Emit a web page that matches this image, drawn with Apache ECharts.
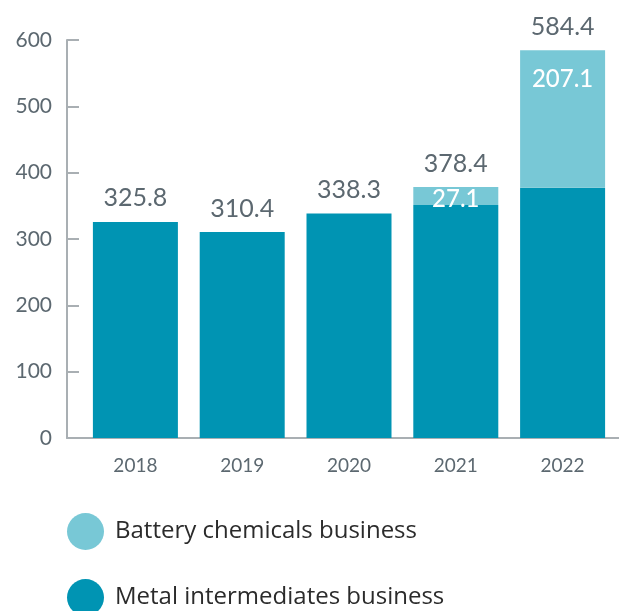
<!DOCTYPE html>
<html>
<head>
<meta charset="utf-8">
<script src="https://cdn.jsdelivr.net/npm/echarts@6/dist/echarts.min.js"></script>
<style>
  html, body { margin: 0; padding: 0; background: #ffffff; }
  #chart { width: 619px; height: 611px; }
</style>
</head>
<body>
<div id="chart"></div>
<script>
// Revenue by business line, 2018–2022
const years = ['2018', '2019', '2020', '2021', '2022'];
const metalIntermediates = [325.8, 310.4, 338.3, 351.3, 377.3];
const batteryChemicals = [null, null, null, 27.1, 207.1];
const totals = [325.8, 310.4, 338.3, 378.4, 584.4];
const yTicks = { min: 0, max: 600, interval: 100 };

const DARK = '#0094b3';
const LIGHT = '#78c8d6';
const AXIS = '#a9afb3';
const GREY_TEXT = '#5c6870';
const FONT = 'Lato';

// inner labels sit differently in the thin 2021 segment and the tall 2022 one
const batteryData = batteryChemicals.map((v, i) => {
  if (v == null) return v;
  if (i === 3) return { value: v, label: { position: 'inside', offset: [0, 3] } };
  return { value: v, label: { position: 'insideTop', distance: 17 } };
});

const legendText = { fontFamily: 'Open Sans', fontSize: 24, color: '#2b2b2b', padding: [0, 0, 0, 6] };

const chart = echarts.init(document.getElementById('chart'), null, { renderer: 'canvas' });

chart.setOption({
  animation: false,
  textStyle: { fontFamily: FONT },
  grid: [
    { left: 82, right: 3, top: 40, bottom: 173 },
    { left: 67, right: 0, top: 40, bottom: 173 }
  ],
  legend: [
    {
      data: ['Battery chemicals business'],
      left: 67, top: 513, padding: 0,
      icon: 'circle', itemWidth: 37, itemHeight: 37,
      textStyle: legendText
    },
    {
      data: ['Metal intermediates business'],
      left: 67, top: 579, padding: 0,
      icon: 'circle', itemWidth: 37, itemHeight: 37,
      textStyle: legendText
    }
  ],
  xAxis: [
    {
      type: 'category',
      gridIndex: 0,
      data: years,
      axisLine: { show: false },
      axisTick: { show: false },
      axisLabel: { color: GREY_TEXT, fontSize: 19, margin: 18, fontFamily: FONT }
    },
    {
      type: 'category',
      gridIndex: 1,
      data: years,
      axisLine: { show: true, lineStyle: { color: AXIS, width: 2 } },
      axisTick: { show: false },
      axisLabel: { show: false }
    }
  ],
  yAxis: [
    {
      type: 'value',
      gridIndex: 0,
      min: yTicks.min,
      max: yTicks.max,
      interval: yTicks.interval,
      splitLine: { show: false },
      axisLine: { show: false },
      axisTick: { show: false },
      axisLabel: { show: false }
    },
    {
      type: 'value',
      gridIndex: 1,
      min: yTicks.min,
      max: yTicks.max,
      interval: yTicks.interval,
      splitLine: { show: false },
      axisLine: { show: true, lineStyle: { color: AXIS, width: 2 } },
      axisTick: { show: true, inside: true, length: 12, lineStyle: { color: AXIS, width: 2 } },
      axisLabel: { color: GREY_TEXT, fontSize: 21, margin: 15, fontFamily: FONT }
    }
  ],
  series: [
    {
      name: 'Metal intermediates business',
      type: 'bar',
      stack: 'revenue',
      xAxisIndex: 0,
      yAxisIndex: 0,
      data: metalIntermediates,
      barWidth: 85,
      itemStyle: { color: DARK }
    },
    {
      name: 'Battery chemicals business',
      type: 'bar',
      stack: 'revenue',
      xAxisIndex: 0,
      yAxisIndex: 0,
      data: batteryData,
      barWidth: 85,
      itemStyle: { color: LIGHT },
      label: {
        show: true,
        color: '#ffffff',
        fontSize: 24,
        fontWeight: 500,
        fontFamily: FONT
      }
    },
    {
      name: 'Total',
      type: 'bar',
      xAxisIndex: 0,
      yAxisIndex: 0,
      data: totals,
      barWidth: 85,
      barGap: '-100%',
      z: 1,
      itemStyle: { color: 'rgba(0,0,0,0)' },
      label: {
        show: true,
        position: 'top',
        distance: 11,
        color: GREY_TEXT,
        fontSize: 25,
        fontFamily: FONT
      },
      tooltip: { show: false }
    }
  ]
});
</script>
</body>
</html>
